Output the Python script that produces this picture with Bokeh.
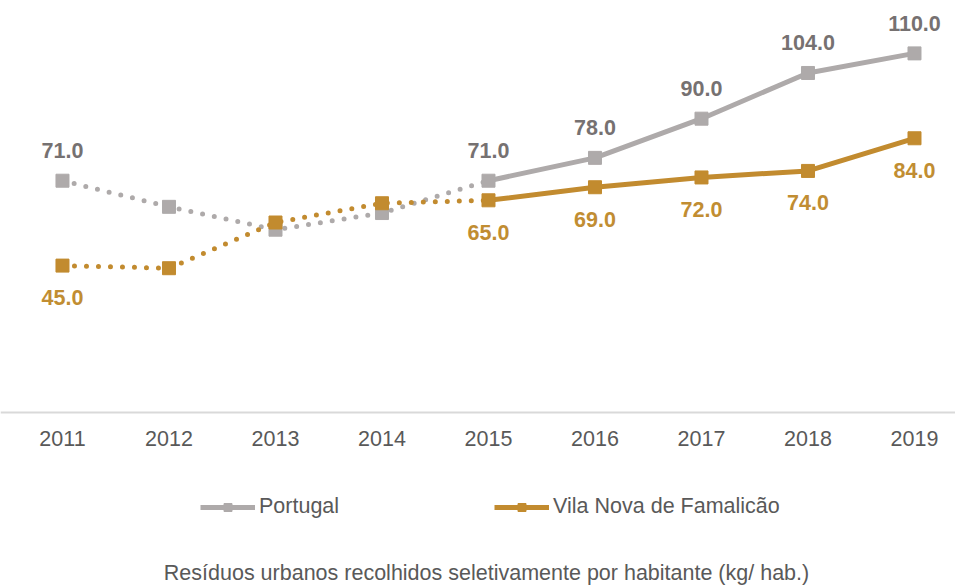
from bokeh.plotting import figure
from bokeh.models import Range1d, Legend, LegendItem, Label, ColumnDataSource, FixedTicker
from bokeh.core.properties import value
from bokeh.embed import file_html
from bokeh.resources import INLINE

years = [2011, 2012, 2013, 2014, 2015, 2016, 2017, 2018, 2019]
portugal = [71.0, 63.0, 56.0, 61.1, 71.0, 78.0, 90.0, 104.0, 110.0]
vnf = [45.0, 44.2, 58.2, 64.1, 65.0, 69.0, 72.0, 74.0, 84.0]
labelled_years = [2011, 2015, 2016, 2017, 2018, 2019]
series_names = ["Portugal", "Vila Nova de Famalicão"]
title_text = "Resíduos urbanos recolhidos seletivamente por habitante (kg/ hab.)"

GRAY = "#AEAAAA"
GRAY_TXT = "#767171"
GOLD = "#C28B2F"
GOLD_TXT = "#C18D32"
AXIS_TXT = "#595959"
FONT = "Liberation Sans"
FS = "21.5px"

p = figure(width=955, height=586, output_backend="svg", toolbar_location=None,
           x_range=Range1d(2010.418, 2019.385), y_range=Range1d(-53.29, 126.2),
           min_border_left=0, min_border_right=0, min_border_top=0, min_border_bottom=0)
p.outline_line_color = None
p.grid.visible = False
p.yaxis.visible = False
p.background_fill_color = "white"

xa = p.xaxis[0]
xa.fixed_location = 0
xa.ticker = FixedTicker(ticks=years)
xa.major_tick_line_color = None
xa.minor_tick_line_color = None
xa.axis_line_color = "#D9D9D9"
xa.axis_line_width = 2
xa.major_label_text_font = FONT
xa.major_label_text_font_size = FS
xa.major_label_text_color = AXIS_TXT
xa.major_label_standoff = 12

renderers = {}
for name, vals, col, tcol, above in [("Portugal", portugal, GRAY, GRAY_TXT, True),
                                     ("Vila Nova de Famalicão", vnf, GOLD, GOLD_TXT, False)]:
    # dotted part 2011-2015
    p.line(years[:5], vals[:5], line_color=col, line_width=5, line_dash="0 12", line_cap="round")
    solid = p.line(years[4:], vals[4:], line_color=col, line_width=5, line_join="round")
    sc = p.scatter(years, vals, marker="square", size=13, fill_color=col, line_color=col)
    renderers[name] = [solid, sc]
    lx = [y for y in years if y in labelled_years]
    lv = [v for y, v in zip(years, vals) if y in labelled_years]
    src = ColumnDataSource(dict(x=lx, y=lv, t=["%.1f" % v for v in lv]))
    p.text(x="x", y="y", text="t", source=src, text_align="center", text_baseline="middle",
           y_offset=-30 if above else 32, text_font=value(FONT), text_font_size=FS,
           text_font_style="bold", text_color=tcol)

legend = Legend(items=[LegendItem(label=n, renderers=renderers[n]) for n in series_names],
                orientation="horizontal", location=(200, 67),
                border_line_color=None, background_fill_alpha=0,
                glyph_width=55, glyph_height=20, label_standoff=4, spacing=155,
                padding=0, margin=0,
                label_text_font=FONT, label_text_font_size=FS, label_text_color=AXIS_TXT)
p.add_layout(legend, "center")

title = Label(x=486, y=14, x_units="screen", y_units="screen", text=title_text,
              text_align="center", text_baseline="middle", text_font=FONT,
              text_font_size=FS, text_color=AXIS_TXT)
p.add_layout(title)

open("out.html", "w").write(file_html(p, INLINE))
